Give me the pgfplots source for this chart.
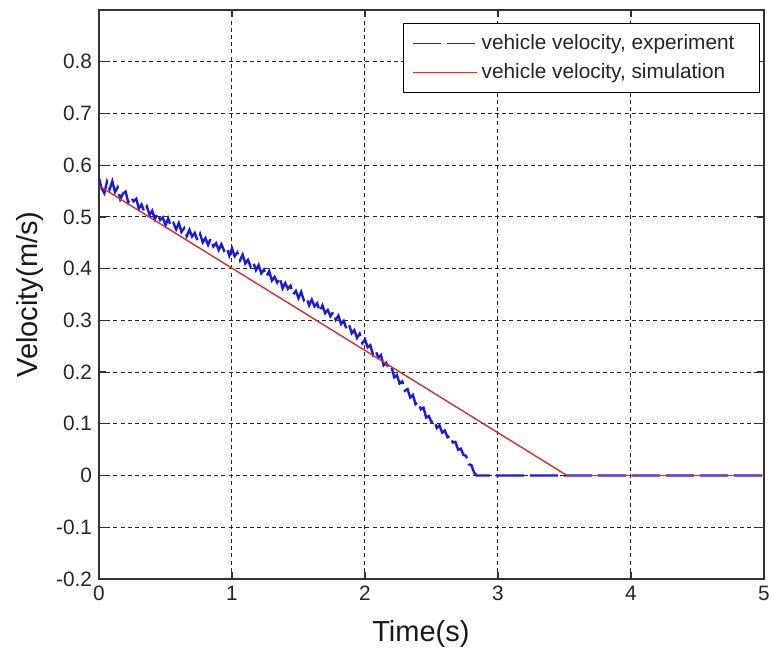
\documentclass[border=0pt]{standalone}
\usepackage{fontspec}
\setmainfont{Liberation Sans}
\usepackage{pgfplots}
\usepackage{pgfplotstable}
\pgfplotsset{compat=1.18}
\definecolor{expblue}{RGB}{25,25,225}
\definecolor{simred}{RGB}{220,45,45}
\pgfplotstableread{
t v
0.00 0.575
0.02 0.555
0.04 0.546
0.06 0.568
0.08 0.553
0.10 0.569
0.12 0.548
0.14 0.557
0.16 0.534
0.18 0.545
0.20 0.549
0.22 0.528
0.24 0.538
0.26 0.530
0.28 0.535
0.30 0.516
0.32 0.524
0.34 0.510
0.36 0.520
0.38 0.504
0.40 0.512
0.42 0.496
0.44 0.507
0.46 0.494
0.48 0.499
0.50 0.484
0.52 0.497
0.54 0.482
0.56 0.488
0.58 0.476
0.60 0.488
0.62 0.471
0.64 0.478
0.66 0.463
0.68 0.475
0.70 0.462
0.72 0.469
0.74 0.455
0.76 0.467
0.78 0.451
0.80 0.459
0.82 0.446
0.84 0.458
0.86 0.443
0.88 0.449
0.90 0.436
0.92 0.447
0.94 0.435
0.96 0.441
0.98 0.425
1.00 0.439
1.02 0.424
1.04 0.431
1.06 0.416
1.08 0.427
1.10 0.410
1.12 0.417
1.14 0.404
1.16 0.412
1.18 0.397
1.20 0.407
1.22 0.391
1.24 0.398
1.26 0.385
1.28 0.395
1.30 0.377
1.32 0.384
1.34 0.373
1.36 0.383
1.38 0.362
1.40 0.372
1.42 0.361
1.44 0.367
1.46 0.350
1.48 0.357
1.50 0.343
1.52 0.355
1.54 0.339
1.56 0.344
1.58 0.329
1.60 0.340
1.62 0.327
1.64 0.333
1.66 0.317
1.68 0.329
1.70 0.314
1.72 0.320
1.74 0.308
1.76 0.316
1.78 0.301
1.80 0.309
1.82 0.293
1.84 0.299
1.86 0.284
1.88 0.292
1.90 0.275
1.92 0.281
1.94 0.266
1.96 0.274
1.98 0.256
2.00 0.263
2.02 0.248
2.04 0.252
2.06 0.234
2.08 0.242
2.10 0.228
2.12 0.233
2.14 0.213
2.16 0.218
2.18 0.206
2.20 0.209
2.22 0.190
2.24 0.194
2.26 0.178
2.28 0.182
2.30 0.164
2.32 0.167
2.34 0.151
2.36 0.156
2.38 0.138
2.40 0.142
2.42 0.128
2.44 0.131
2.46 0.112
2.48 0.115
2.50 0.103
2.52 0.107
2.54 0.092
2.56 0.097
2.58 0.083
2.60 0.087
2.62 0.074
2.64 0.077
2.66 0.064
2.68 0.065
2.70 0.050
2.72 0.052
2.74 0.040
2.76 0.038
2.78 0.022
2.80 0.020
2.82 0.006
2.84 0.000
5.00 0.000
}\expdata
\pgfplotstableread{
t v
0.00 0.560
3.52 0.000
5.00 0.000
}\simdata
\begin{document}
\begin{tikzpicture}
\useasboundingbox (-49.5pt,-37pt) rectangle (336pt,289.5pt);
\begin{axis}[
  at={(0pt,0pt)}, anchor=south west,
  scale only axis, width=332.5pt, height=284.5pt,
  xmin=0, xmax=5, ymin=-0.2, ymax=0.9,
  xtick={0,1,2,3,4,5},
  ytick={-0.2,-0.1,0,0.1,0.2,0.3,0.4,0.5,0.6,0.7,0.8},
  /pgf/number format/assume math mode=true,
  yticklabel style={/pgf/number format/fixed, /pgf/number format/precision=1},
  ticklabel style={font=\fontsize{10.4}{12}\selectfont, text=black!85},
  grid=major,
  grid style={black!85, line width=0.5pt, dash pattern=on 2pt off 1.6pt},
  axis line style={black!80, line width=0.75pt},
  major tick length=3.5pt,
  tick style={black!80, line width=0.6pt},
  xlabel={Time(s)}, ylabel={Velocity(m/s)},
  label style={font=\fontsize{14.5}{17}\selectfont, text=black!90},
  xlabel style={at={(axis description cs:0.484,-0.109)}, anchor=base},
  ylabel style={at={(axis description cs:-0.1040,0.5)}, anchor=center},
  legend style={at={(0.994,0.977)}, anchor=north east, draw=black, line width=0.5pt,
    fill=white, font=\fontsize{10.4}{12}\selectfont, inner xsep=4.5pt, inner ysep=3.5pt,
    row sep=1.5pt, text=black!85},
  legend cell align=left,
  legend image code/.code={\draw[#1, line width=0.7pt] (0pt,0pt) -- (32pt,0pt);},
]
\addplot[expblue, line width=1.2pt, dash pattern=on 14pt off 3pt] table[x=t, y=v] {\expdata};
\addlegendentry{vehicle velocity, experiment\kern6pt\mbox{}}
\addplot[simred, line width=0.7pt] table[x=t, y=v] {\simdata};
\addlegendentry{vehicle velocity, simulation\kern6pt\mbox{}}
\end{axis}
\end{tikzpicture}
\end{document}
